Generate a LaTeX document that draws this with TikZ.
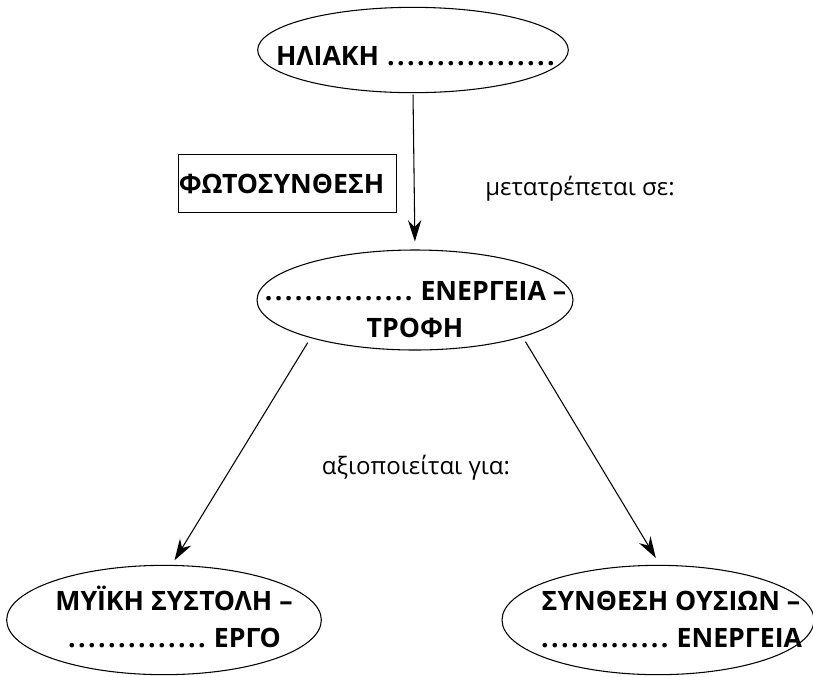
\documentclass[tikz,border=0pt]{standalone}
\usepackage{fontspec}
\setmainfont{Open Sans}
\usetikzlibrary{shapes.geometric,arrows.meta}
\newcommand{\dotrow}[1]{\foreach \k in {1,...,#1}{\makebox[7.5pt]{.}}}

\begin{document}
\begin{tikzpicture}[x=0.75pt,y=-0.75pt,
  oval/.style={draw,ellipse,line width=0.8pt,inner sep=0pt},
  word/.style={font=\bfseries\fontsize{20}{27.5}\selectfont,align=center,anchor=base},
  note/.style={font=\fontsize{18}{22}\selectfont,anchor=base},
  arr/.style={-{Stealth[length=16pt,width=10pt]},line width=0.8pt}]
\useasboundingbox (0,0) rectangle (813,676);

% Ellipses
\node[oval,minimum width=233pt,minimum height=64pt] (sun) at (413,50) {};
\node[oval,minimum width=237pt,minimum height=75pt] (food) at (415,300) {};
\node[oval,minimum width=236pt,minimum height=82pt] (musc) at (164,620) {};
\node[oval,minimum width=234pt,minimum height=82pt] (synth) at (658,620) {};

% Texts (base = last line)
\node[word] (sunT) at (416,65) {ΗΛΙΑΚΗ \dotrow{17}};
\node[word] (foodT) at (415,337) {\dotrow{15} ΕΝΕΡΓΕΙΑ –\\ΤΡΟΦΗ};
\node[word] (muscT) at (174,647) {ΜΥΪΚΗ ΣΥΣΤΟΛΗ –\\\dotrow{14} ΕΡΓΟ};
\node[word] (synthT) at (671,647) {ΣΥΝΘΕΣΗ ΟΥΣΙΩΝ –\\\dotrow{13} ΕΝΕΡΓΕΙΑ};

% Box
\node[draw,line width=0.8pt,font=\bfseries\fontsize{20}{24}\selectfont,
  minimum width=164pt,minimum height=43pt,inner sep=0pt] (photo) at (287.5,183.5) {ΦΩΤΟΣΥΝΘΕΣΗ\hspace*{9pt}};

% Labels
\node[note] (turns) at (580,195) {μετατρέπεται σε:};
\node[note] (uses) at (416,474) {αξιοποιείται για:};

% Arrows
\draw[arr,shorten <=1pt,shorten >=6pt] (sun.south) -- (food.north);
\draw[arr,shorten <=4pt,shorten >=4pt] (food.200) -- (musc.82);
\draw[arr,shorten <=4pt,shorten >=6pt] (food.341) -- (synth.88);

\end{tikzpicture}
\end{document}
